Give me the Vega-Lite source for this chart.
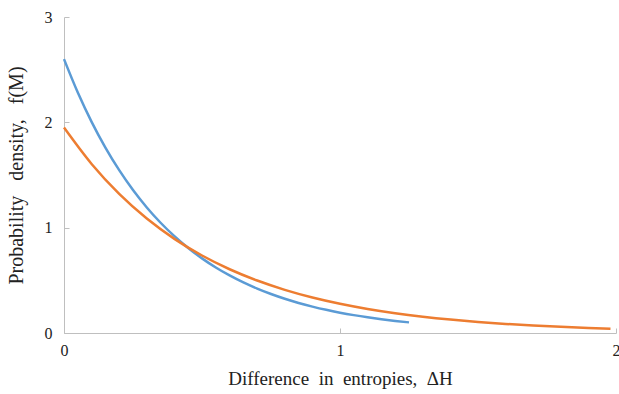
{
  "$schema": "https://vega.github.io/schema/vega-lite/v6.json",
  "width": 552,
  "height": 316,
  "autosize": "none",
  "padding": {"left": 64, "top": 17, "right": 3, "bottom": 61},
  "background": "white",
  "config": {
    "view": {"stroke": null},
    "font": "Liberation Serif",
    "axis": {
      "grid": false,
      "domainColor": "#bfbfbf",
      "tickColor": "#bfbfbf",
      "tickSize": -5,
      "labelFont": "Liberation Serif",
      "titleFont": "Liberation Serif",
      "labelFontSize": 16,
      "titleFontSize": 19,
      "labelColor": "#222",
      "titleColor": "#222",
      "titleFontWeight": "normal",
      "labelOverlap": false,
      "labelFlush": false
    }
  },
  "data": {"values": [
    {"x":0,"y":2.6,"s":"a"},{"x":0.05,"y":2.283,"s":"a"},{"x":0.1,"y":2.0047,"s":"a"},{"x":0.15,"y":1.7603,"s":"a"},{"x":0.2,"y":1.5458,"s":"a"},{"x":0.25,"y":1.3573,"s":"a"},{"x":0.3,"y":1.1919,"s":"a"},{"x":0.35,"y":1.0466,"s":"a"},{"x":0.4,"y":0.919,"s":"a"},{"x":0.45,"y":0.807,"s":"a"},{"x":0.5,"y":0.7086,"s":"a"},{"x":0.55,"y":0.6222,"s":"a"},{"x":0.6,"y":0.5464,"s":"a"},{"x":0.65,"y":0.4798,"s":"a"},{"x":0.7,"y":0.4213,"s":"a"},{"x":0.75,"y":0.3699,"s":"a"},{"x":0.8,"y":0.3248,"s":"a"},{"x":0.85,"y":0.2852,"s":"a"},{"x":0.9,"y":0.2505,"s":"a"},{"x":0.95,"y":0.2199,"s":"a"},{"x":1.0,"y":0.1931,"s":"a"},{"x":1.05,"y":0.1696,"s":"a"},{"x":1.1,"y":0.1489,"s":"a"},{"x":1.15,"y":0.1307,"s":"a"},{"x":1.2,"y":0.1148,"s":"a"},{"x":1.25,"y":0.1008,"s":"a"},
    {"x":0,"y":1.95,"s":"b"},{"x":0.1,"y":1.6045,"s":"b"},{"x":0.2,"y":1.3203,"s":"b"},{"x":0.3,"y":1.0864,"s":"b"},{"x":0.4,"y":0.8939,"s":"b"},{"x":0.5,"y":0.7355,"s":"b"},{"x":0.6,"y":0.6052,"s":"b"},{"x":0.7,"y":0.498,"s":"b"},{"x":0.8,"y":0.4098,"s":"b"},{"x":0.9,"y":0.3372,"s":"b"},{"x":1.0,"y":0.2774,"s":"b"},{"x":1.1,"y":0.2283,"s":"b"},{"x":1.2,"y":0.1878,"s":"b"},{"x":1.3,"y":0.1546,"s":"b"},{"x":1.4,"y":0.1272,"s":"b"},{"x":1.5,"y":0.1046,"s":"b"},{"x":1.6,"y":0.0861,"s":"b"},{"x":1.7,"y":0.0709,"s":"b"},{"x":1.8,"y":0.0583,"s":"b"},{"x":1.9,"y":0.048,"s":"b"},{"x":1.98,"y":0.0411,"s":"b"}
  ]},
  "mark": {"type": "line", "strokeWidth": 2.5, "interpolate": "monotone"},
  "encoding": {
    "x": {"field": "x", "type": "quantitative", "scale": {"domain": [0, 2], "nice": false},
      "axis": {"title": "Difference\u00a0 in\u00a0 entropies,\u00a0 ΔH", "tickCount": 2, "labelPadding": 14, "titlePadding": 11, "labelOverlap": false, "labelFlush": false}},
    "y": {"field": "y", "type": "quantitative", "scale": {"domain": [0, 3]},
      "axis": {"title": "Probability\u00a0\u00a0 density,\u00a0\u00a0 f(M)", "values": [0, 1, 2, 3], "format": "d", "labelPadding": 17, "titlePadding": 18, "titleFontSize": 20, "labelOverlap": false}},
    "color": {"field": "s", "type": "nominal", "legend": null,
      "scale": {"domain": ["a", "b"], "range": ["#5B9BD5", "#ED7D31"]}}
  }
}
